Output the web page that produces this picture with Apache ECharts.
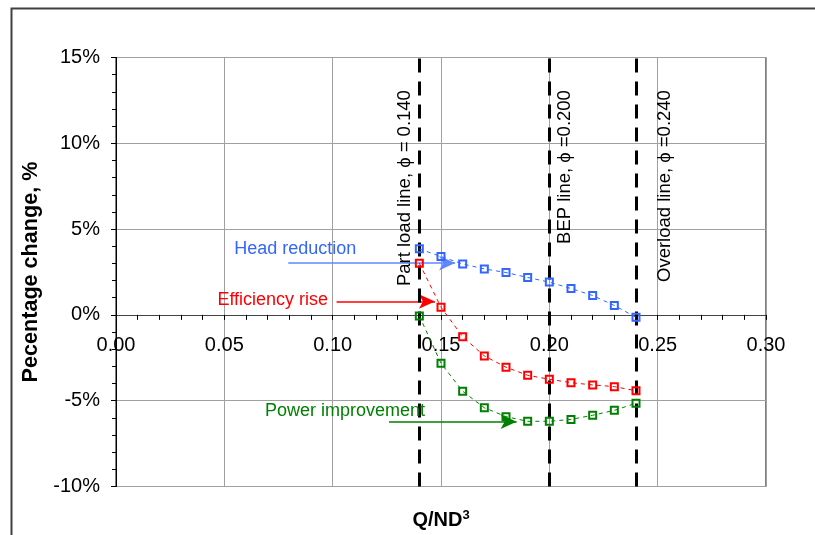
<!DOCTYPE html>
<html>
<head>
<meta charset="utf-8">
<script src="https://cdn.jsdelivr.net/npm/echarts@6/dist/echarts.min.js"></script>
<style>
html,body{margin:0;padding:0;background:#fff;}
#c{width:815px;height:535px;}
</style>
</head>
<body>
<div id="c"></div>
<script>
// ---- data ----
const phi = [0.14, 0.15, 0.16, 0.17, 0.18, 0.19, 0.20, 0.21, 0.22, 0.23, 0.24];
const headReduction = [3.85, 3.40, 2.97, 2.68, 2.47, 2.18, 1.91, 1.54, 1.13, 0.55, -0.14];
const efficiencyRise = [3.01, 0.45, -1.27, -2.39, -3.05, -3.52, -3.75, -3.95, -4.08, -4.18, -4.42];
const powerImprovement = [-0.06, -2.82, -4.45, -5.41, -5.93, -6.20, -6.20, -6.09, -5.85, -5.56, -5.15];

const refLines = [0.14, 0.20, 0.24];
const refLabels = ['Part load line, \u03D5 = 0.140', 'BEP line, \u03D5 =0.200', 'Overload line, \u03D5 =0.240'];
const refLabelX = [0.1334, 0.2072, 0.2535];
const refLabelTop = 13.1;

const seriesNames = ['Head reduction', 'Efficiency rise', 'Power improvement'];
const seriesColors = ['#3366FF', '#FF0000', '#008000'];
const annotText = [[0.0546, 3.83], [0.0468, 0.875], [0.0688, -5.58]];
const arrowFrom = [[0.0795, 3.02], [0.1018, 0.78], [0.126, -6.22]];
const arrowTo = [[0.1565, 3.02], [0.1472, 0.78], [0.1849, -6.22]];

const xTicks = { min: 0, max: 0.30, interval: 0.05 };
const yTicks = { min: -10, max: 15, interval: 5 };

const FONT = 'Arial, "Liberation Sans", sans-serif';
const chart = echarts.init(document.getElementById('c'), null, { renderer: 'canvas' });

const values = [headReduction, efficiencyRise, powerImprovement];
const series = values.map((arr, i) => ({
  name: seriesNames[i],
  type: 'line',
  xAxisIndex: 0,
  data: phi.map((x, k) => [x, arr[k]]),
  symbol: 'rect',
  symbolSize: 7,
  z: 5,
  itemStyle: { color: 'rgba(0,0,0,0)', borderColor: seriesColors[i], borderWidth: 2 },
  lineStyle: { color: seriesColors[i], width: 1, type: [4, 4] },
  emphasis: { disabled: true },
  markLine: {
    silent: true,
    symbol: ['none', 'arrow'],
    symbolSize: [11, 16],
    label: { show: false },
    lineStyle: { color: i === 0 ? '#5f86ff' : seriesColors[i], width: 1.5, type: 'solid' },
    data: [[{ coord: arrowFrom[i] }, { coord: arrowTo[i] }]]
  }
}));

series.push({
  name: 'ref',
  type: 'line',
  xAxisIndex: 0,
  data: [],
  z: 4,
  markLine: {
    silent: true,
    symbol: ['none', 'none'],
    label: { show: false },
    lineStyle: { color: '#000', width: 3, type: [14, 9] },
    data: refLines.map(v => ({ xAxis: v }))
  }
});

chart.setOption({
  animation: false,
  backgroundColor: '#fff',
  grid: { left: 116, right: 49, top: 57.5, bottom: 48.5, containLabel: false, outerBoundsMode: 'none', show: true, borderColor: '#000', borderWidth: 1, backgroundColor: 'transparent' },
  xAxis: [{
    type: 'value',
    position: 'bottom',
    min: xTicks.min, max: xTicks.max, interval: xTicks.interval,
    offset: 0,
    axisLine: { show: true, onZero: false, lineStyle: { color: '#444', width: 1 } },
    axisTick: { show: true, length: 5, lineStyle: { color: '#000' } },
    minorTick: { show: true, splitNumber: 5, length: 5, lineStyle: { color: '#000' } },
    axisLabel: { fontFamily: FONT, fontSize: 20, color: '#000', margin: 21, formatter: v => v.toFixed(2) },
    splitLine: { show: true, lineStyle: { color: '#a0a0a0', width: 1 } }
  }, {
    type: 'value',
    position: 'bottom',
    min: xTicks.min, max: xTicks.max, interval: xTicks.interval,
    axisLine: { show: false, onZero: false },
    axisTick: { show: false },
    axisLabel: { show: false },
    splitLine: { show: false },
    name: '{b|Q/ND}{s|3}',
    nameLocation: 'middle',
    nameGap: 22,
    nameTextStyle: {
      rich: {
        b: { fontFamily: FONT, fontSize: 20, fontWeight: 'bold', color: '#000' },
        s: { fontFamily: FONT, fontSize: 13, fontWeight: 'bold', color: '#000', verticalAlign: 'top', padding: [0, 0, 10, 0] }
      }
    }
  }],
  yAxis: {
    type: 'value',
    min: yTicks.min, max: yTicks.max, interval: yTicks.interval,
    axisLine: { show: true, lineStyle: { color: '#000', width: 1 } },
    axisTick: { show: true, length: 5, lineStyle: { color: '#000' } },
    minorTick: { show: true, splitNumber: 5, length: 4, lineStyle: { color: '#000' } },
    axisLabel: { fontFamily: FONT, fontSize: 20, color: '#000', margin: 16, formatter: '{value}%' },
    splitLine: { show: true, lineStyle: { color: '#a0a0a0', width: 1 } },
    name: 'Pecentage change, %',
    nameLocation: 'middle',
    nameGap: 72,
    nameTextStyle: { fontFamily: FONT, fontSize: 21.6, fontWeight: 'bold', color: '#000' }
  },
  series: series
});

// move the x axis (line, ticks, labels) up to the 0% level via the y scale
const zeroPx = chart.convertToPixel({ yAxisIndex: 0 }, 0);
const bottomPx = chart.convertToPixel({ yAxisIndex: 0 }, yTicks.min);
chart.setOption({ xAxis: [{ offset: zeroPx - bottomPx }, {}] });

function placeGraphics() {
  const g = [];
  g.push({ type: 'rect', shape: { x: 11.5, y: 8.5, width: 900, height: 600 }, style: { fill: 'none', stroke: '#404040', lineWidth: 2 }, silent: true, z: 0 });
  refLines.forEach((v, i) => {
    const p = chart.convertToPixel({ xAxisIndex: 0, yAxisIndex: 0 }, [refLabelX[i], refLabelTop]);
    g.push({
      type: 'text', x: p[0], y: p[1], rotation: Math.PI / 2, silent: true, z: 10,
      style: { text: refLabels[i], fontFamily: FONT, fontSize: 18.5, fill: '#000', align: 'right', verticalAlign: 'middle' }
    });
  });
  annotText.forEach((c, i) => {
    const p = chart.convertToPixel({ xAxisIndex: 0, yAxisIndex: 0 }, c);
    g.push({
      type: 'text', x: p[0], y: p[1], silent: true, z: 10,
      style: { text: seriesNames[i], fontFamily: FONT, fontSize: 18, fill: seriesColors[i], align: 'left', verticalAlign: 'middle' }
    });
  });
  chart.setOption({ graphic: g });
}
placeGraphics();
</script>
</body>
</html>
